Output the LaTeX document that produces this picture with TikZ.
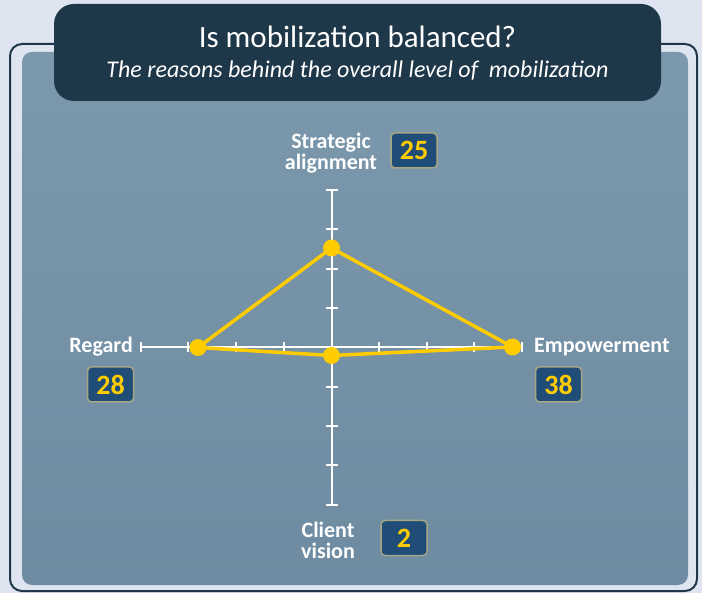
\documentclass[tikz,border=0pt]{standalone}
\usepackage{fontspec}
\setmainfont{Carlito}
\usetikzlibrary{positioning}

\definecolor{pagebg}{HTML}{DFE5F0}
\definecolor{navy}{HTML}{1E3749}
\definecolor{paneltop}{HTML}{7C98AC}
\definecolor{panelbot}{HTML}{6E8BA1}
\definecolor{valfill}{HTML}{1F4D78}
\definecolor{valedge}{HTML}{A5A784}
\definecolor{plotyellow}{HTML}{FFCC00}

\begin{document}
\begin{tikzpicture}[x=1pt, y=-1pt]
            \tikzstyle{axis} = [draw=white, line width=2pt];
            \tikzstyle{tick} = [draw=white, line width=1.8pt];
            \tikzstyle{label} = [text=white, font=\bfseries\fontsize{22}{21}\selectfont, align=center, inner sep=0pt];
            \tikzstyle{value} = [draw=valedge, fill=valfill, line width=1.5pt, rounded corners=4pt, text=plotyellow, font=\bfseries\fontsize{28}{28}\selectfont, minimum width=46pt, minimum height=35pt, inner sep=0pt]
            \tikzstyle{dot} = [fill=plotyellow]

            % frame and panel
            \fill [pagebg] (0,0) rectangle (702,593);
            \draw [navy, line width=2pt, rounded corners=12pt] (10,44) rectangle (697,591);
            \shade [top color=paneltop, bottom color=panelbot, rounded corners=10pt] (22,52) rectangle (688,585);

            \node [fill=navy, rounded corners=20pt, minimum width=607pt, minimum height=97pt] (titlebox) at (357.5,52.5) {};
            \node [text=white, font=\fontsize{31}{31}\selectfont] (title) at (357.5,37) {Is mobilization balanced?};
            \node [text=white, font=\itshape\fontsize{24}{24}\selectfont, below = 6pt of title] (subtitle) {The reasons behind the overall level of\ \ mobilization};

            % axes
            \coordinate (axT) at (331.5,190);
            \coordinate (axB) at (331.5,505);
            \coordinate (axL) at (141,347);
            \coordinate (axR) at (522,347);
            \draw [axis] (axL) to (axR);
            \draw [axis] (axT) to (axB);
            \foreach \y in {190, 229, 269, 308, 387, 426, 465, 505}
                \draw [tick] (325.5,\y) to (337.5,\y);
            \foreach \x in {141, 188, 236, 284, 379, 427, 474, 522}
                \draw [tick] (\x,342) to (\x,352);

            % scores
            \coordinate (pS) at (331.5,248);
            \coordinate (pE) at (512.5,347);
            \coordinate (pC) at (331.5,355.5);
            \coordinate (pR) at (198,347.5);
            \draw [plotyellow, line width=3.5pt, line join=round] (pS) to (pE) to (pC) to (pR) to (pS);
            \foreach \p in {pS, pE, pC, pR}
                \fill [dot] (\p) circle (8.5);

            % labels
            \node [label] (lblS) at (331,153.5) {Strategic\\alignment};
            \node [value] (valS) at (414,150.5) {25};
            \node [label, anchor=base east] (lblR) at (133,353) {Regard};
            \node [value] (valR) at (110.5,384.5) {28};
            \node [label, anchor=base west] (lblE) at (534,353) {Empowerment};
            \node [value] (valE) at (558.5,384.5) {38};
            \node [label] (lblC) at (328,540) {Client\\vision};
            \node [value] (valC) at (404,538) {2};
\end{tikzpicture}
\end{document}
